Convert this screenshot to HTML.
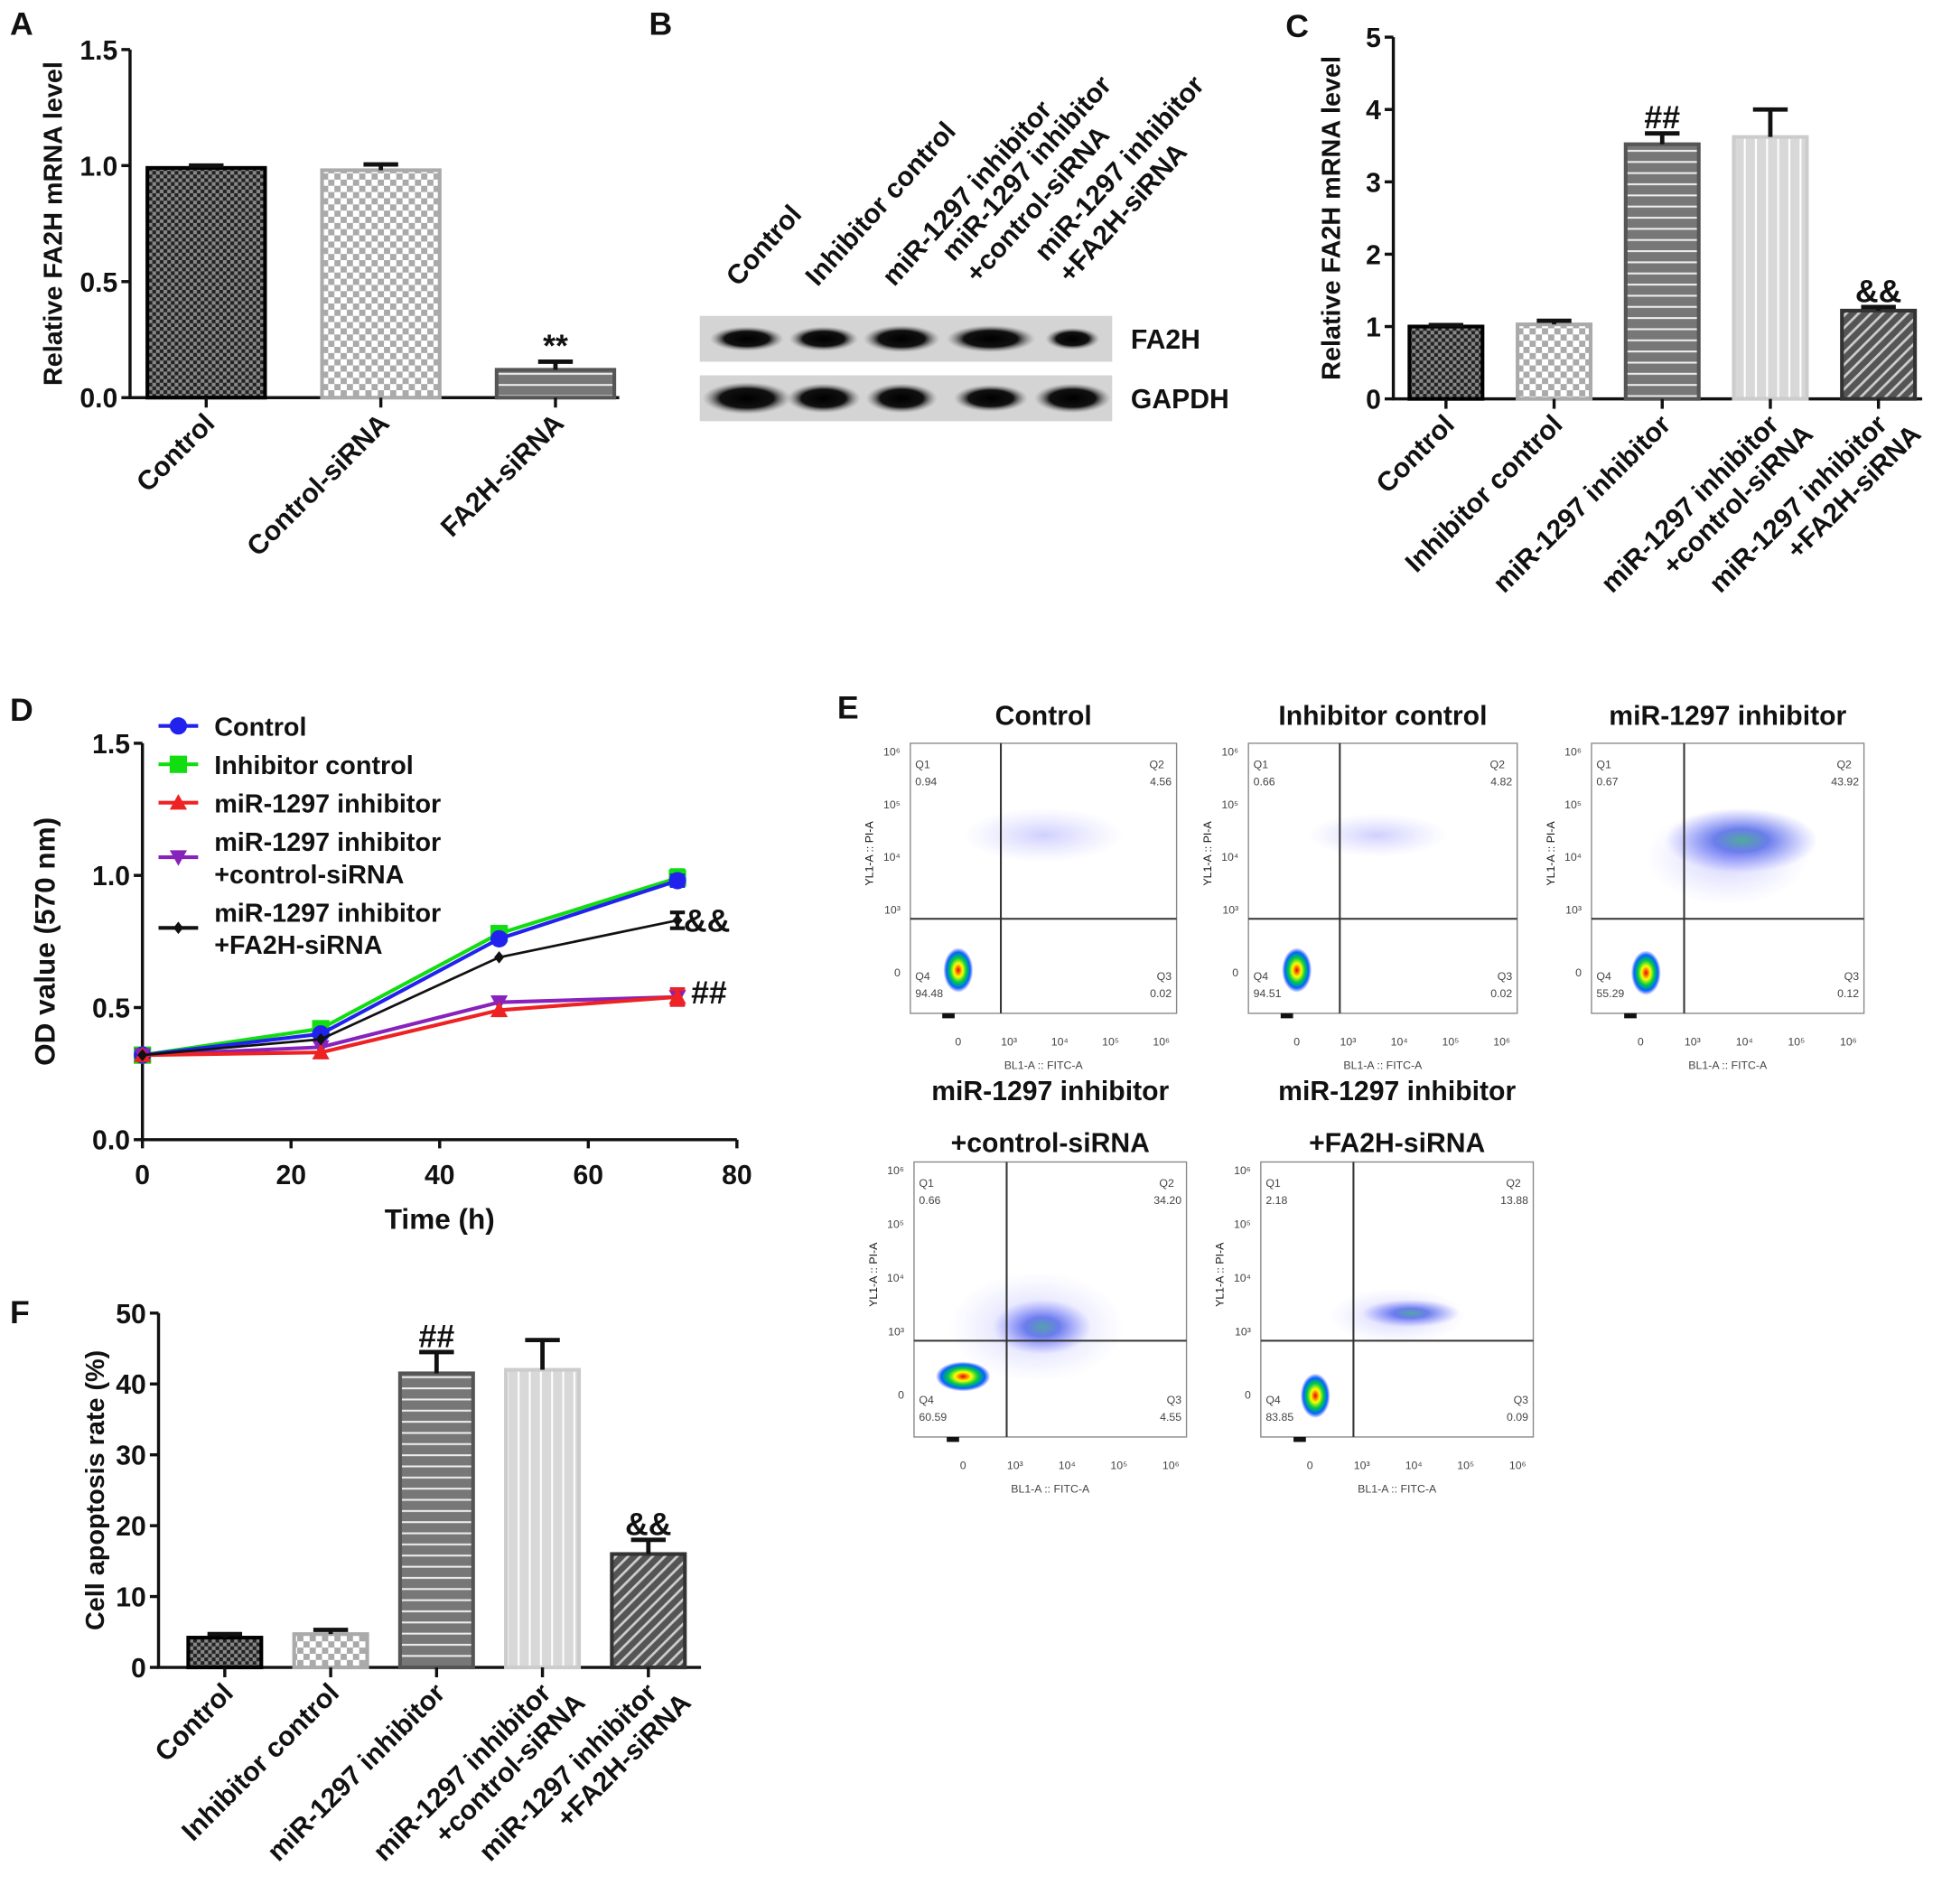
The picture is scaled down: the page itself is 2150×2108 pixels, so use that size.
<!DOCTYPE html>
<html><head><meta charset="utf-8"><style>
html,body{margin:0;padding:0;background:#fff}
svg{display:block}
text{font-family:"Liberation Sans",Arial,sans-serif;font-weight:bold;fill:#111}
</style></head><body>
<svg id="fig" width="2150" height="2108" viewBox="0 0 1568 1537" preserveAspectRatio="none" xmlns="http://www.w3.org/2000/svg">
<defs>
<pattern id="pChkDark" width="6" height="6" patternUnits="userSpaceOnUse"><rect width="6" height="6" fill="#222"/><rect width="3" height="3" fill="#888"/><rect x="3" y="3" width="3" height="3" fill="#888"/></pattern>
<pattern id="pChkLight" width="10" height="10" patternUnits="userSpaceOnUse"><rect width="10" height="10" fill="#fff"/><rect width="5" height="5" fill="#aaa"/><rect x="5" y="5" width="5" height="5" fill="#aaa"/></pattern>
<pattern id="pHStripe" width="8" height="9" patternUnits="userSpaceOnUse"><rect width="8" height="9" fill="#777"/><rect y="4" width="8" height="1.5" fill="#eee"/></pattern>
<pattern id="pVStripe" width="9" height="8" patternUnits="userSpaceOnUse"><rect width="9" height="8" fill="#d8d8d8"/><rect x="4" width="1.5" height="8" fill="#fff"/></pattern>
<pattern id="pDiag" width="7" height="7" patternUnits="userSpaceOnUse" patternTransform="rotate(45)"><rect width="7" height="7" fill="#555"/><rect width="2" height="7" fill="#ccc"/></pattern>
<radialGradient id="gCore"><stop offset="0" stop-color="#e00"/><stop offset="0.3" stop-color="#ff0"/><stop offset="0.55" stop-color="#0c4"/><stop offset="0.8" stop-color="#06f"/><stop offset="1" stop-color="#33f" stop-opacity="0"/></radialGradient>
<radialGradient id="gCloud"><stop offset="0" stop-color="#2a6" stop-opacity="0.85"/><stop offset="0.35" stop-color="#24d" stop-opacity="0.7"/><stop offset="1" stop-color="#66f" stop-opacity="0"/></radialGradient>
<radialGradient id="gSparse"><stop offset="0" stop-color="#77f" stop-opacity="0.35"/><stop offset="1" stop-color="#99f" stop-opacity="0"/></radialGradient>
<radialGradient id="gBand"><stop offset="0" stop-color="#000"/><stop offset="0.6" stop-color="#111"/><stop offset="1" stop-color="#888" stop-opacity="0"/></radialGradient>
</defs>
<g id="root"></g>
</svg>
<script>
// ---- Panel A data
const aCats=["Control","Control-siRNA","FA2H-siRNA"];
const aVals=[0.99,0.98,0.12];
const aErrs=[0.01,0.025,0.035];
const aTicks=["0.0","0.5","1.0","1.5"];
// ---- Panel C data
const cCats=[["Control"],["Inhibitor control"],["miR-1297 inhibitor"],["miR-1297 inhibitor","+control-siRNA"],["miR-1297 inhibitor","+FA2H-siRNA"]];
const cVals=[1.0,1.03,3.52,3.62,1.22];
const cErrs=[0.02,0.05,0.15,0.38,0.05];
const cTicks=["0","1","2","3","4","5"];
const cMarks=["","","##","","&&"];
// ---- Panel D data
const dTimes=[0,24,48,72];
const dControl=[0.32,0.40,0.76,0.98];
const dInhCtrl=[0.32,0.42,0.78,0.99];
const dMir=[0.32,0.33,0.49,0.54];
const dMirCtrl=[0.32,0.35,0.52,0.54];
const dMirFa2h=[0.32,0.38,0.69,0.83];
const dErrEnd=[0.03,0.02,0.03,0.03,0.03];
const dYTicks=["0.0","0.5","1.0","1.5"];
const dXTicks=["0","20","40","60","80"];
// ---- Panel F data
const fVals=[4.2,4.7,41.5,42.0,16.0];
const fErrs=[0.5,0.6,3.0,4.2,2.0];
const fTicks=["0","10","20","30","40","50"];
const fMarks=["","","##","","&&"];
// ---- Panel E quadrant data
const eQ1=["0.94","0.66","0.67","0.66","2.18"];
const eQ2=["4.56","4.82","43.92","34.20","13.88"];
const eQ3=["0.02","0.02","0.12","4.55","0.09"];
const eQ4=["94.48","94.51","55.29","60.59","83.85"];

const NS="http://www.w3.org/2000/svg";
const root=document.getElementById('root');
function el(tag,attrs,parent,txt){const e=document.createElementNS(NS,tag);for(const k in attrs)e.setAttribute(k,attrs[k]);if(txt!==undefined)e.textContent=txt;(parent||root).appendChild(e);return e;}
function grp(name){const g=el('g',{});return g;}
const fills=["url(#pChkDark)","url(#pChkLight)","url(#pHStripe)","url(#pVStripe)","url(#pDiag)"];
const strokes=["#000","#aaa","#555","#ccc","#333"];

function barChart(name,o){
  const g=grp(name);
  const sy=v=>o.y0-(v/o.ymax)*(o.y0-o.ytop);
  const ax=el('path',{d:`M${o.ax} ${o.ytop} V${o.y0} H${o.xend}`,stroke:'#111','stroke-width':2.5,fill:'none'},g);
  
  o.ticks.forEach((t,i)=>{const v=i*o.ymax/(o.ticks.length-1);const y=sy(v);
    el('line',{x1:o.ax-7,x2:o.ax,y1:y,y2:y,stroke:'#111','stroke-width':2.5},g);
    const tl=el('text',{x:o.ax-10,y:y+8,'text-anchor':'end','font-size':o.fs},g,t);
    });
  const yt=el('text',{transform:`translate(${o.ytx},${(o.ytop+o.y0)/2}) rotate(-90)`,'text-anchor':'middle','font-size':o.fs-1},g,o.ytitle);
  
  o.vals.forEach((v,i)=>{const x=o.x0+i*o.step;const cx=x+o.bw/2;const y=sy(v);
    const b=el('rect',{x:x,y:y,width:o.bw,height:o.y0-y,fill:fills[o.fillIdx[i]],stroke:strokes[o.fillIdx[i]],'stroke-width':3},g);
    
    const ye=sy(v+o.errs[i]);
    el('path',{d:`M${cx} ${y} V${ye} M${cx-14} ${ye} H${cx+14}`,stroke:'#111','stroke-width':3.5,fill:'none'},g);
    el('line',{x1:cx,x2:cx,y1:o.y0,y2:o.y0+8,stroke:'#111','stroke-width':2.5},g);
    if(o.marks&&o.marks[i]){const m=el('text',{x:cx,y:ye-4,'text-anchor':'middle','font-size':o.fs+4},g,o.marks[i]);}
    const lines=o.cats[i];
    const lg=el('g',{transform:`translate(${cx+8},${o.y0+22}) rotate(-45)`},g);
    
    lines.forEach((s,j)=>el('text',{x:j*14,y:j*25,'text-anchor':'end','font-size':o.fs},lg,s));
  });
}
function label(t,x,y){const l=el('text',{x:x,y:y,'font-size':26},root,t);}

label('A',8,28);
barChart('panel-a-chart',{ax:105,ytop:40,y0:321,xend:500,ymax:1.5,ticks:aTicks,fs:22,ytx:50,ytitle:'Relative FA2H mRNA level',
  vals:aVals,errs:aErrs,x0:119,step:141,bw:95,fillIdx:[0,1,2],cats:aCats.map(c=>[c]),marks:["","","**"]});
label('C',1038,30);
barChart('panel-c-chart',{ax:1125,ytop:30,y0:322,xend:1552,ymax:5,ticks:cTicks,fs:22,ytx:1082,ytitle:'Relative FA2H mRNA level',
  vals:cVals,errs:cErrs,x0:1138,step:87.3,bw:59,fillIdx:[0,1,2,3,4],cats:cCats,marks:cMarks});
label('F',8,1068);
barChart('panel-f-chart',{ax:128,ytop:1060,y0:1346,xend:566,ymax:50,ticks:fTicks,fs:22,ytx:84,ytitle:'Cell apoptosis rate (%)',
  vals:fVals,errs:fErrs,x0:152,step:85.5,bw:59,fillIdx:[0,1,2,3,4],cats:cCats,marks:fMarks});

label('B',524,28);
(function(){
  const g=grp('panel-b-western-blot');
  const bl=[["Control"],["Inhibitor control"],["miR-1297 inhibitor"],["miR-1297 inhibitor","+control-siRNA"],["miR-1297 inhibitor","+FA2H-siRNA"]];
  const lx=[596,660,722,770,845];
  bl.forEach((ls,i)=>{const lg=el('g',{transform:`translate(${lx[i]},${ls.length>1?212:232}) rotate(-48)`},g);
    
    ls.forEach((s,j)=>el('text',{x:j*0,y:j*26,'font-size':22},lg,s));});
  const strips=[[255,292,'FA2H',[60,56,62,72,44],[10,10,11,11,9]],[303,340,'GAPDH',[72,60,58,60,62],[13,12,12,11,12]]];
  const bc=[603,665,728,800,866];
  strips.forEach(s=>{const r=el('rect',{x:565,y:s[0],width:333,height:s[1]-s[0],fill:'#d4d4d4'},g);
    
    bc.forEach((c,i)=>{const e=el('ellipse',{cx:c,cy:(s[0]+s[1])/2,rx:s[3][i]/2,ry:s[4][i],fill:'url(#gBand)'},g);});
    const t=el('text',{x:913,y:(s[0]+s[1])/2+8,'font-size':22},g,s[2]);});
})();

label('D',8,582);
(function(){
  const g=grp('panel-d-line-chart');
  const X0=115,X1=595,Y0=920,Y1=600;
  const sx=t=>X0+t/80*(X1-X0), sy=v=>Y0-v/1.5*(Y0-Y1);
  const ax=el('path',{d:`M${X0} ${Y1} V${Y0} H${X1}`,stroke:'#111','stroke-width':2.5,fill:'none'},g);
  
  dYTicks.forEach((t,i)=>{const y=sy(i*0.5);el('line',{x1:X0-7,x2:X0,y1:y,y2:y,stroke:'#111','stroke-width':2.5},g);
    const l=el('text',{x:X0-10,y:y+8,'text-anchor':'end','font-size':22},g,t);});
  dXTicks.forEach((t,i)=>{const x=sx(i*20);el('line',{x1:x,x2:x,y1:Y0,y2:Y0+7,stroke:'#111','stroke-width':2.5},g);
    const l=el('text',{x:x,y:Y0+36,'text-anchor':'middle','font-size':22},g,t);});
  const xt=el('text',{x:355,y:992,'text-anchor':'middle','font-size':23},g,'Time (h)');
  const yt=el('text',{transform:'translate(44,760) rotate(-90)','text-anchor':'middle','font-size':23},g,'OD value (570 nm)');
  const series=[[dInhCtrl,'#1d1','sq'],[dControl,'#22e','ci'],[dMirCtrl,'#82b','tdn'],[dMir,'#e22','tup'],[dMirFa2h,'#111','di']];
  function marker(pg,kind,x,y,c,s){
    if(kind==='ci')el('circle',{cx:x,cy:y,r:s,fill:c},pg);
    else if(kind==='sq')el('rect',{x:x-s,y:y-s,width:2*s,height:2*s,fill:c},pg);
    else if(kind==='tup')el('path',{d:`M${x} ${y-s} L${x+s} ${y+s*0.8} L${x-s} ${y+s*0.8}Z`,fill:c},pg);
    else if(kind==='tdn')el('path',{d:`M${x} ${y+s} L${x+s} ${y-s*0.8} L${x-s} ${y-s*0.8}Z`,fill:c},pg);
    else el('path',{d:`M${x} ${y-s} L${x+s*0.8} ${y} L${x} ${y+s} L${x-s*0.8} ${y}Z`,fill:c},pg);
  }
  series.forEach((s,k)=>{const sg=el('g',{},g);
    const pts=dTimes.map((t,i)=>sx(t)+','+sy(s[0][i])).join(' ');
    el('polyline',{points:pts,fill:'none',stroke:s[1],'stroke-width':s[2]==='di'?2:3},sg);
    dTimes.forEach((t,i)=>{const x=sx(t),y=sy(s[0][i]);
      if(i===3){const e=dErrEnd[k];el('path',{d:`M${x} ${sy(s[0][i]-e)} V${sy(s[0][i]+e)} M${x-6} ${sy(s[0][i]-e)} H${x+6} M${x-6} ${sy(s[0][i]+e)} H${x+6}`,stroke:s[1],'stroke-width':3},sg);}
      marker(sg,s[2],x,y,s[1],s[2]==='di'?5:7);});
  });
  const m1=el('text',{x:552,y:752,'font-size':26},g,'&&');
  const m2=el('text',{x:558,y:810,'font-size':26},g,'##');
  const leg=[['Control','#22e','ci',586],['Inhibitor control','#1d1','sq',617],['miR-1297 inhibitor','#e22','tup',648],['miR-1297 inhibitor|+control-siRNA','#82b','tdn',692],['miR-1297 inhibitor|+FA2H-siRNA','#111','di',749]];
  leg.forEach(l=>{const lg=el('g',{},g);
    el('line',{x1:128,x2:160,y1:l[3],y2:l[3],stroke:l[1],'stroke-width':3},lg);marker(lg,l[2],144,l[3],l[1],l[2]==='di'?5:7);
    const parts=l[0].split('|');
    parts.forEach((p,j)=>el('text',{x:173,y:l[3]+8+(parts.length>1?(j*26-13):0),'font-size':21},lg,p));});
})();

label('E',676,580);
(function(){
  const plots=[
    {x:735,y:600,w:215,h:218,t:['Control'],ty:585,blob:[0.18,0.84,'c'],cloud:[[0.5,0.34,0.3,0.1,'s']]},
    {x:1008,y:600,w:217,h:218,t:['Inhibitor control'],ty:585,blob:[0.18,0.84,'c'],cloud:[[0.48,0.34,0.26,0.08,'s']]},
    {x:1285,y:600,w:220,h:218,t:['miR-1297 inhibitor'],ty:585,blob:[0.2,0.85,'c'],cloud:[[0.55,0.36,0.28,0.12,'d'],[0.5,0.42,0.3,0.18,'s']]},
    {x:738,y:938,w:220,h:222,t:['miR-1297 inhibitor','+control-siRNA'],ty:888,blob:[0.18,0.78,'w'],cloud:[[0.47,0.6,0.18,0.1,'d'],[0.45,0.6,0.32,0.2,'s']]},
    {x:1018,y:938,w:220,h:222,t:['miR-1297 inhibitor','+FA2H-siRNA'],ty:888,blob:[0.2,0.85,'c'],cloud:[[0.55,0.55,0.18,0.05,'d'],[0.5,0.56,0.25,0.1,'s']]}
  ];
  plots.forEach((p,i)=>{
    const g=grp('flow-plot-'+i);
    p.t.forEach((s,j)=>el('text',{x:p.x+p.w/2,y:p.ty+j*42,'text-anchor':'middle','font-size':22},g,s));
    el('rect',{x:p.x,y:p.y,width:p.w,height:p.h,fill:'#fff',stroke:'#888','stroke-width':1},g);
    p.cloud.forEach(c=>el('ellipse',{cx:p.x+c[0]*p.w,cy:p.y+c[1]*p.h,rx:c[2]*p.w,ry:c[3]*p.h,fill:c[4]==='d'?'url(#gCloud)':'url(#gSparse)'},g));
    const b=p.blob;
    el('ellipse',{cx:p.x+b[0]*p.w,cy:p.y+b[1]*p.h,rx:b[2]==='w'?22:12,ry:b[2]==='w'?12:18,fill:'url(#gCore)'},g);
    const qx=p.x+0.34*p.w,qy=p.y+0.65*p.h;
    el('line',{x1:qx,x2:qx,y1:p.y,y2:p.y+p.h,stroke:'#333','stroke-width':1.5},g);
    el('line',{x1:p.x,x2:p.x+p.w,y1:qy,y2:qy,stroke:'#333','stroke-width':1.5},g);
    const T=(x,y,s,a)=>{const t=el('text',{x:x,y:y,'text-anchor':a||'start','font-size':9},g,s);t.style.fontWeight='normal';t.style.fill='#444';return t;};
    T(p.x+4,p.y+20,'Q1');T(p.x+4,p.y+34,eQ1[i]);
    T(p.x+p.w-22,p.y+20,'Q2');T(p.x+p.w-4,p.y+34,eQ2[i],'end');
    T(p.x+4,p.y+p.h-27,'Q4');T(p.x+4,p.y+p.h-13,eQ4[i]);
    T(p.x+p.w-4,p.y+p.h-27,'Q3','end');T(p.x+p.w-4,p.y+p.h-13,eQ3[i],'end');
    ['10⁶','10⁵','10⁴','10³','0'].forEach((s,k)=>T(p.x-8,p.y+10+k*(p.h*0.78/4)+(k===4?8:0),s,'end'));
    ['0','10³','10⁴','10⁵','10⁶'].forEach((s,k)=>T(p.x+0.18*p.w+k*(p.w*0.82/4.3),p.y+p.h+26,s,'middle'));
    T(p.x+p.w/2,p.y+p.h+45,'BL1-A :: FITC-A','middle');
    const yl=el('text',{transform:`translate(${p.x-30},${p.y+p.h/2-20}) rotate(-90)`,'text-anchor':'middle','font-size':9},g,'YL1-A :: PI-A');yl.style.fontWeight='normal';
    el('rect',{x:p.x+0.12*p.w,y:p.y+p.h,width:10,height:4,fill:'#111'},g);
  });
})();
</script>
</body></html>
